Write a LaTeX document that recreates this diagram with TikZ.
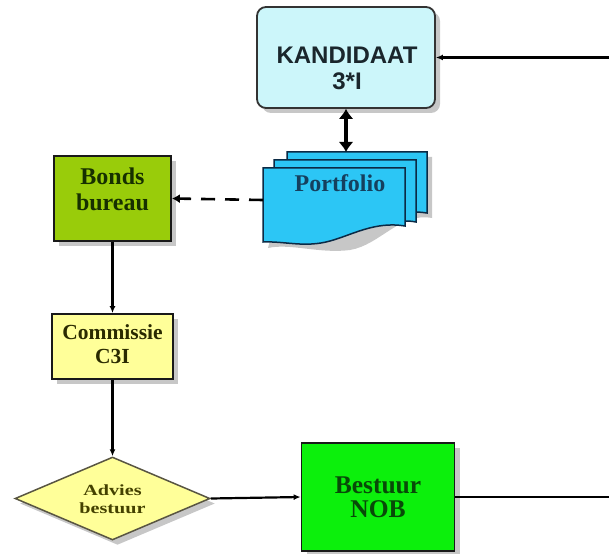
\documentclass[tikz,border=0pt]{standalone}
\usepackage{fontspec}
\setmainfont{Liberation Serif}
\newfontfamily\arialf{Liberation Sans}
\usetikzlibrary{shapes.geometric,arrows.meta,shadows,calc}
\definecolor{kandfill}{HTML}{CCF6FA}
\definecolor{kandtext}{HTML}{1A262C}
\definecolor{portfill}{HTML}{2CC6F5}
\definecolor{porttext}{HTML}{15405E}
\definecolor{portline}{HTML}{0B2A45}
\definecolor{bondfill}{HTML}{99CC0A}
\definecolor{bondtext}{HTML}{163000}
\definecolor{comfill}{HTML}{FFFF99}
\definecolor{comtext}{HTML}{2A2A00}
\definecolor{advtext}{HTML}{444100}
\definecolor{bestfill}{HTML}{0CF00C}
\definecolor{besttext}{HTML}{084A08}
\tikzset{
  shad/.style={drop shadow={shadow xshift=5pt,shadow yshift=-5pt,opacity=.22,fill=black}},
  boxnode/.style={draw, line width=1.8pt, inner sep=0pt, shad},
  txt/.style={align=center, inner sep=0pt, font=\bfseries},
  conn/.style={line width=2.2pt, -{Latex[length=7pt,width=6pt]}},
}
\begin{document}
\begin{tikzpicture}[x=1pt,y=-1pt]
\useasboundingbox[fill=white] (0,0) rectangle (609,553);
% KANDIDAAT
\node[boxnode, draw=black!80, fill=kandfill, rounded corners=9pt,
      minimum width=178pt, minimum height=101pt] (kand) at (346,57.5) {};
\node[txt, text=kandtext, font=\arialf\bfseries\fontsize{24}{26}\selectfont] (kandt) at (347,68) {KANDIDAAT\\3*I};
% Portfolio (multi-document)
\fill[black, opacity=.22] (292,157) -- (432,157) -- (432,218) .. controls (400,212) and (380,245) .. (350,250) .. controls (320,254) and (290,243) .. (268,248) -- cycle;
\draw[line width=1.5pt, draw=portline, fill=portfill] (287,152) -- (427,152) -- (427,213) .. controls (420,212) and (416,212) .. (416,212) -- (416,160) -- (287,160) -- cycle;
\draw[line width=1.5pt, draw=portline, fill=portfill] (274,160) -- (416,160) -- (416,222) .. controls (411,221) and (407,221) .. (405,221) -- (405,168) -- (274,168) -- cycle;
\draw[line width=1.5pt, draw=portline, fill=portfill] (263,168) -- (405,168) -- (405,226) .. controls (375,221) and (352,235) .. (330,241) .. controls (305,248) and (285,241) .. (263,242) -- cycle;
\coordinate (porttop) at (346,152);
\coordinate (portleft) at (263,200);
\node[txt, text=porttext, font=\bfseries\fontsize{24}{26}\selectfont] (portt) at (340,183) {Portfolio};
% Bonds bureau
\node[boxnode, draw=black!90, fill=bondfill, minimum width=117pt, minimum height=85pt] (bonds) at (112.5,198.5) {};
\node[txt, text=bondtext, font=\bfseries\fontsize{24}{26}\selectfont] (bondst) at (112.5,189) {Bonds\\bureau};
% Commissie
\node[boxnode, draw=black!90, fill=comfill, minimum width=121pt, minimum height=65pt] (com) at (112.5,346.5) {};
\node[txt, text=comtext, font=\bfseries\fontsize{21.5}{24}\selectfont] (comt) at (112.5,344) {Commissie\\C3I};
% Advies bestuur
\node[diamond, draw=black!75!yellow, line width=1.5pt, fill=comfill, inner sep=0pt, shad,
      minimum width=195pt, minimum height=83pt] (adv) at (112.5,498.5) {};
\node[txt, text=advtext, font=\bfseries\fontsize{15.5}{18}\selectfont] (advt) at (112.5,499)
  {\scalebox{1.3}[1]{Advies}\\\scalebox{1.3}[1]{bestuur}};
% Bestuur NOB
\node[boxnode, draw=black!90, fill=bestfill, minimum width=153pt, minimum height=108pt] (best) at (378,497) {};
\node[txt, text=besttext, font=\bfseries\fontsize{25.5}{24}\selectfont] (bestt) at (378,497) {Bestuur\\NOB};
% connectors
\draw[line width=3.5pt, {Latex[length=10pt,width=15pt]}-{Latex[length=10pt,width=15pt]}] (kand.south) -- (porttop);
\draw[line width=2.6pt, dash pattern=on 14pt off 10pt, -{Latex[length=8pt,width=9pt]}] (portleft) -- (bonds.east);
\draw[conn] (bonds.south) -- (com.north);
\draw[conn] (com.south) -- (adv.north);
\draw[conn] (adv.east) -- (best.west);
\draw[conn] (best.east) -- (611,497) -- (611,57.5) -- (kand.east);
\end{tikzpicture}
\end{document}
